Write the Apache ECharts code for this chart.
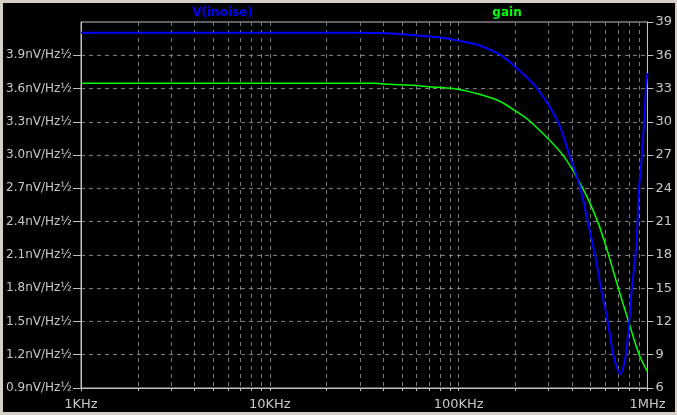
<!DOCTYPE html>
<html>
<head>
<meta charset="utf-8">
<script src="https://cdn.jsdelivr.net/npm/echarts@6/dist/echarts.min.js"></script>
<style>
  html, body { margin: 0; padding: 0; background: #d4d0c8; width: 677px; height: 415px; overflow: hidden; }
  #chart { position: absolute; left: 3px; top: 3px; width: 672px; height: 409px; background: #000; }
</style>
</head>
<body>
<div id="chart"></div>
<script>
// ---- data ----
const xLabelValues = [1000, 10000, 100000, 1000000];
const xLabelTexts = ['1KHz', '10KHz', '100KHz', '1MHz'];
const xGridMultipliers = [1, 2, 3, 4, 5, 6, 7, 8, 9];

const leftTickValues = [0.9, 1.2, 1.5, 1.8, 2.1, 2.4, 2.7, 3.0, 3.3, 3.6, 3.9];
const rightTickValues = [6, 9, 12, 15, 18, 21, 24, 27, 30, 33, 36, 39];

const noiseFreq = [1000, 29600, 45200, 57700, 78100, 99600, 127000, 167800, 199000, 260800,
  335300, 386500, 441700, 482600, 527500, 567200, 615300, 659400, 690500, 717800,
  742700, 768500, 800900, 826500, 864500, 885700, 902000, 935300, 960700, 981900, 1000000];
const noiseValues = [4.104, 4.104, 4.097, 4.080, 4.062, 4.032, 3.993, 3.900, 3.797, 3.600,
  3.300, 3.000, 2.700, 2.400, 2.100, 1.800, 1.500, 1.200, 1.080, 1.024,
  1.080, 1.200, 1.500, 1.800, 2.100, 2.400, 2.700, 3.000, 3.300, 3.600, 3.740];

const gainFreq = [1000, 36400, 42600, 57000, 69200, 93700, 127000, 162000, 199000, 240200,
  356200, 454300, 545000, 622700, 700700, 794000, 904000, 1000000];
const gainValues = [33.47, 33.47, 33.38, 33.29, 33.17, 33.00, 32.51, 31.92, 31.00, 30.00,
  27.00, 24.00, 21.00, 18.00, 15.00, 12.00, 9.00, 7.47];

const leftMin = 0.9, leftMax = 4.2, leftStep = 0.3;
const rightMin = 6, rightMax = 39, rightStep = 3;
const leftUnit = 'nV/Hz½';
const noiseName = 'V(inoise)';
const gainName = 'gain';

// ---- build ----
const xTickValues = [];
for (let d = 1000; d < 1000000; d *= 10) {
  xGridMultipliers.forEach(m => xTickValues.push(m * d));
}
xTickValues.push(1000000);

const noiseData = noiseFreq.map((f, i) => [f, noiseValues[i]]);
const gainData = gainFreq.map((f, i) => [f, gainValues[i]]);

const gridColor = '#7a7a7a';
const axisColor = '#c0c0c0';
const textColor = '#c8c8c8';

const chart = echarts.init(document.getElementById('chart'), null, { renderer: 'canvas' });
chart.setOption({
  animation: false,
  backgroundColor: '#000000',
  grid: {
    left: 78, top: 19, right: 25, bottom: 24,
    show: true, borderColor: axisColor, borderWidth: 1, backgroundColor: 'transparent'
  },
  graphic: [
    { type: 'text', x: 219.5, y: 10, style: { text: noiseName, fill: '#0000ff', font: 'bold 12px "DejaVu Sans"', align: 'center', verticalAlign: 'middle' } },
    { type: 'text', x: 504, y: 10, style: { text: gainName, fill: '#00ff00', font: 'bold 12px "DejaVu Sans"', align: 'center', verticalAlign: 'middle' } }
  ],
  xAxis: {
    type: 'log', logBase: 10, min: 1000, max: 1000000,
    axisLine: { show: true, lineStyle: { color: axisColor, width: 1 } },
    axisTick: { show: true, inside: false, length: 3, lineStyle: { color: axisColor }, customValues: xTickValues },
    axisLabel: {
      show: true, customValues: xLabelValues, margin: 10, color: textColor,
      fontFamily: 'DejaVu Sans', fontSize: 13,
      formatter: v => { const i = xLabelValues.findIndex(x => Math.abs(x - v) / x < 1e-6); return i >= 0 ? xLabelTexts[i] : ''; }
    },
    splitLine: { show: true, lineStyle: { color: gridColor, type: [4, 4], width: 1 } },
    minorTick: { show: false }, minorSplitLine: { show: false }
  },
  yAxis: [
    {
      type: 'value', min: leftMin, max: leftMax, interval: leftStep, position: 'left',
      axisLine: { show: true, lineStyle: { color: axisColor } },
      axisTick: { show: true, inside: false, length: 8, lineStyle: { color: axisColor }, customValues: leftTickValues },
      axisLabel: {
        color: textColor, fontFamily: 'DejaVu Sans', fontSize: 12, margin: 9, customValues: leftTickValues,
        formatter: v => v.toFixed(1) + leftUnit
      },
      splitLine: { show: true, lineStyle: { color: gridColor, type: [4, 4], width: 1 } }
    },
    {
      type: 'value', min: rightMin, max: rightMax, interval: rightStep, position: 'right',
      axisLine: { show: true, lineStyle: { color: axisColor } },
      axisTick: { show: true, inside: false, length: 6, lineStyle: { color: axisColor }, customValues: rightTickValues },
      axisLabel: { color: textColor, fontFamily: 'DejaVu Sans', fontSize: 13, margin: 8, customValues: rightTickValues, formatter: v => String(Math.round(v)) },
      splitLine: { show: false }
    }
  ],
  series: [
    {
      name: gainName, type: 'line', yAxisIndex: 1, data: gainData, showSymbol: false, smooth: 0.3,
      lineStyle: { color: '#00ff00', width: 1.5 }, itemStyle: { color: '#00ff00' }, z: 3
    },
    {
      name: noiseName, type: 'line', yAxisIndex: 0, data: noiseData, showSymbol: false, smooth: 0.3,
      lineStyle: { color: '#0000ff', width: 2 }, itemStyle: { color: '#0000ff' }, z: 4
    }
  ]
});
</script>
</body>
</html>
